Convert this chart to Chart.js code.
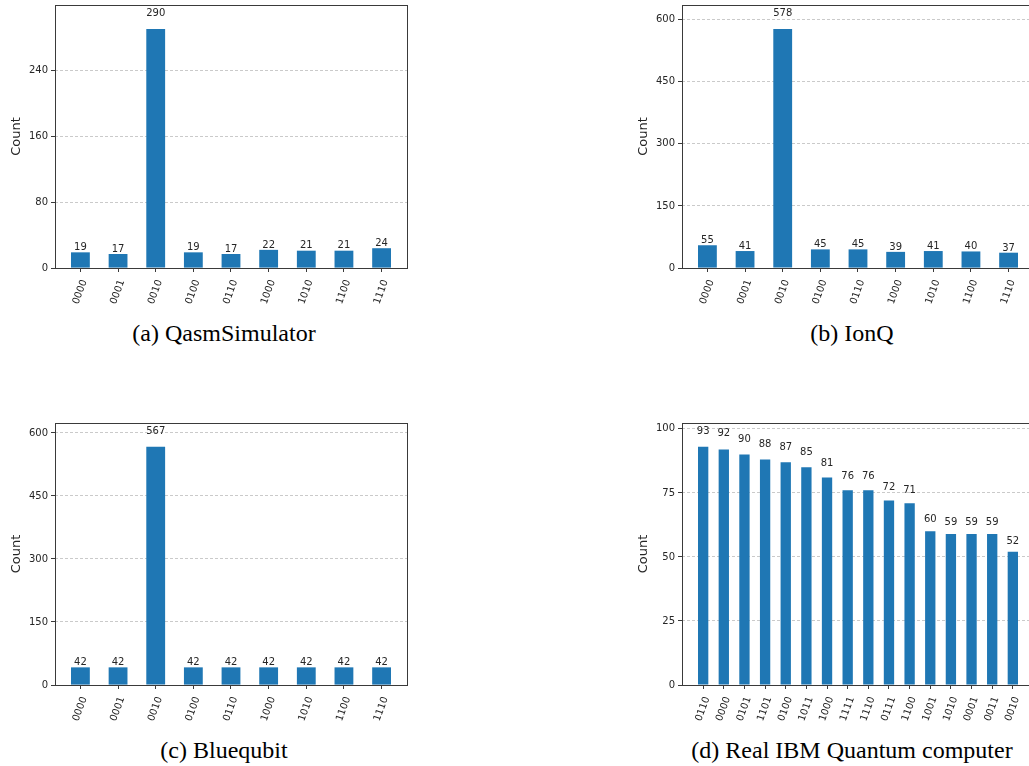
<!DOCTYPE html>
<html>
<head>
<meta charset="utf-8">
<script src="https://cdn.jsdelivr.net/npm/chart.js@4/dist/chart.umd.min.js"></script>
<style>
  html, body { margin: 0; padding: 0; background: #fff; }
  body { position: relative; width: 1029px; height: 766px; overflow: hidden; }
  canvas.panel { position: absolute; }
  .cap {
    position: absolute;
    font-family: "Liberation Serif", "Times New Roman", serif;
    font-size: 24px;
    line-height: 24px;
    color: #000;
    white-space: nowrap;
    transform: translateX(-50%);
  }
</style>
</head>
<body>
<canvas id="qasm" class="panel" width="425" height="310" style="left:0px;top:0px"></canvas>
<canvas id="ionq" class="panel" width="425" height="310" style="left:627px;top:0px"></canvas>
<canvas id="bluequbit" class="panel" width="425" height="309" style="left:0px;top:418px"></canvas>
<canvas id="ibm" class="panel" width="425" height="309" style="left:627px;top:418px"></canvas>

<div class="cap" style="left:224px;top:321px">(a) QasmSimulator</div>
<div class="cap" style="left:852px;top:321px">(b) IonQ</div>
<div class="cap" style="left:224px;top:738px">(c) Bluequbit</div>
<div class="cap" style="left:852px;top:738px">(d) Real IBM Quantum computer</div>

<script>
// Measurement counts per backend
const qasmStates = ['0000', '0001', '0010', '0100', '0110', '1000', '1010', '1100', '1110'];
const qasmCounts = [19, 17, 290, 19, 17, 22, 21, 21, 24];
const qasmTicks = [0, 80, 160, 240];

const ionqStates = ['0000', '0001', '0010', '0100', '0110', '1000', '1010', '1100', '1110'];
const ionqCounts = [55, 41, 578, 45, 45, 39, 41, 40, 37];
const ionqTicks = [0, 150, 300, 450, 600];

const bluequbitStates = ['0000', '0001', '0010', '0100', '0110', '1000', '1010', '1100', '1110'];
const bluequbitCounts = [42, 42, 567, 42, 42, 42, 42, 42, 42];
const bluequbitTicks = [0, 150, 300, 450, 600];

const ibmStates = ['0110', '0000', '0101', '1101', '0100', '1011', '1000', '1111', '1110', '0111', '1100', '1001', '1010', '0001', '0011', '0010'];
const ibmCounts = [93, 92, 90, 88, 87, 85, 81, 76, 76, 72, 71, 60, 59, 59, 59, 52];
const ibmTicks = [0, 25, 50, 75, 100];

const BAR_COLOR = '#1f77b4';
const AXIS_COLOR = '#3a3a3a';
const TEXT_COLOR = '#262626';
const SANS = '"DejaVu Sans", sans-serif';

// Box around the plotting area (all four spines)
const framePlugin = {
  id: 'frame',
  afterDraw(chart) {
    const { ctx, chartArea: a } = chart;
    ctx.save();
    ctx.strokeStyle = AXIS_COLOR;
    ctx.lineWidth = 1;
    ctx.strokeRect(Math.round(a.left) + 0.5, Math.round(a.top) + 0.5,
                   Math.round(a.right - a.left), Math.round(a.bottom - a.top));
    ctx.restore();
  }
};

// Count written above each bar, at 1.05 x its height
const valueLabelPlugin = {
  id: 'valueLabels',
  afterDatasetsDraw(chart) {
    const { ctx } = chart;
    const xs = chart.scales.x, ys = chart.scales.y;
    ctx.save();
    ctx.font = '10px ' + SANS;
    ctx.fillStyle = TEXT_COLOR;
    ctx.textAlign = 'center';
    ctx.textBaseline = 'bottom';
    chart.data.datasets[0].data.forEach(p => {
      ctx.fillText(String(p.y), xs.getPixelForValue(p.x), ys.getPixelForValue(p.y * 1.05) + 1);
    });
    ctx.restore();
  }
};

function makeHistogram(id, states, counts, yTicks) {
  const n = states.length;
  const margin = 0.05 * (n - 0.5);
  const xMin = -0.25 - margin;
  const xMax = n - 0.75 + margin;
  const yMax = 1.1 * Math.max(...counts);

  new Chart(document.getElementById(id), {
    type: 'bar',
    data: {
      datasets: [{
        data: counts.map((v, i) => ({ x: i, y: v })),
        backgroundColor: BAR_COLOR,
        borderWidth: 0,
        categoryPercentage: 1,
        barPercentage: 0.5
      }]
    },
    options: {
      responsive: false,
      animation: false,
      devicePixelRatio: 1,
      layout: { padding: { top: 5, right: 18, left: 0, bottom: 0 } },
      plugins: { legend: { display: false }, tooltip: { enabled: false } },
      scales: {
        x: {
          type: 'linear',
          offset: false,
          min: xMin,
          max: xMax,
          afterBuildTicks: s => { s.ticks = states.map((_, i) => ({ value: i })); },
          afterFit: s => { s.height = 42; s.paddingLeft = 0; s.paddingRight = 0; },
          ticks: {
            autoSkip: false,
            minRotation: 70,
            maxRotation: 70,
            padding: 6,
            labelOffset: 4,
            color: TEXT_COLOR,
            font: { family: SANS, size: 10 },
            callback: v => states[v]
          },
          grid: { offset: false, drawOnChartArea: false, tickLength: 4, color: AXIS_COLOR, lineWidth: 1 },
          border: { display: false }
        },
        y: {
          min: 0,
          max: yMax,
          afterBuildTicks: s => { s.ticks = yTicks.map(v => ({ value: v })); },
          afterFit: s => { s.width = 55; s.paddingTop = 0; s.paddingBottom = 0; },
          ticks: {
            padding: 3,
            color: TEXT_COLOR,
            font: { family: SANS, size: 10 },
            callback: v => String(v)
          },
          grid: {
            color: '#bdbdbd',
            lineWidth: 0.8,
            tickColor: AXIS_COLOR,
            tickLength: 4,
            tickWidth: 1
          },
          border: { display: false, dash: [3, 2] },
          title: {
            display: true,
            text: 'Count',
            color: TEXT_COLOR,
            font: { family: SANS, size: 13 },
            padding: { top: 9, bottom: 4 }
          }
        }
      }
    },
    plugins: [valueLabelPlugin, framePlugin]
  });
}

makeHistogram('qasm', qasmStates, qasmCounts, qasmTicks);
makeHistogram('ionq', ionqStates, ionqCounts, ionqTicks);
makeHistogram('bluequbit', bluequbitStates, bluequbitCounts, bluequbitTicks);
makeHistogram('ibm', ibmStates, ibmCounts, ibmTicks);
</script>
</body>
</html>
